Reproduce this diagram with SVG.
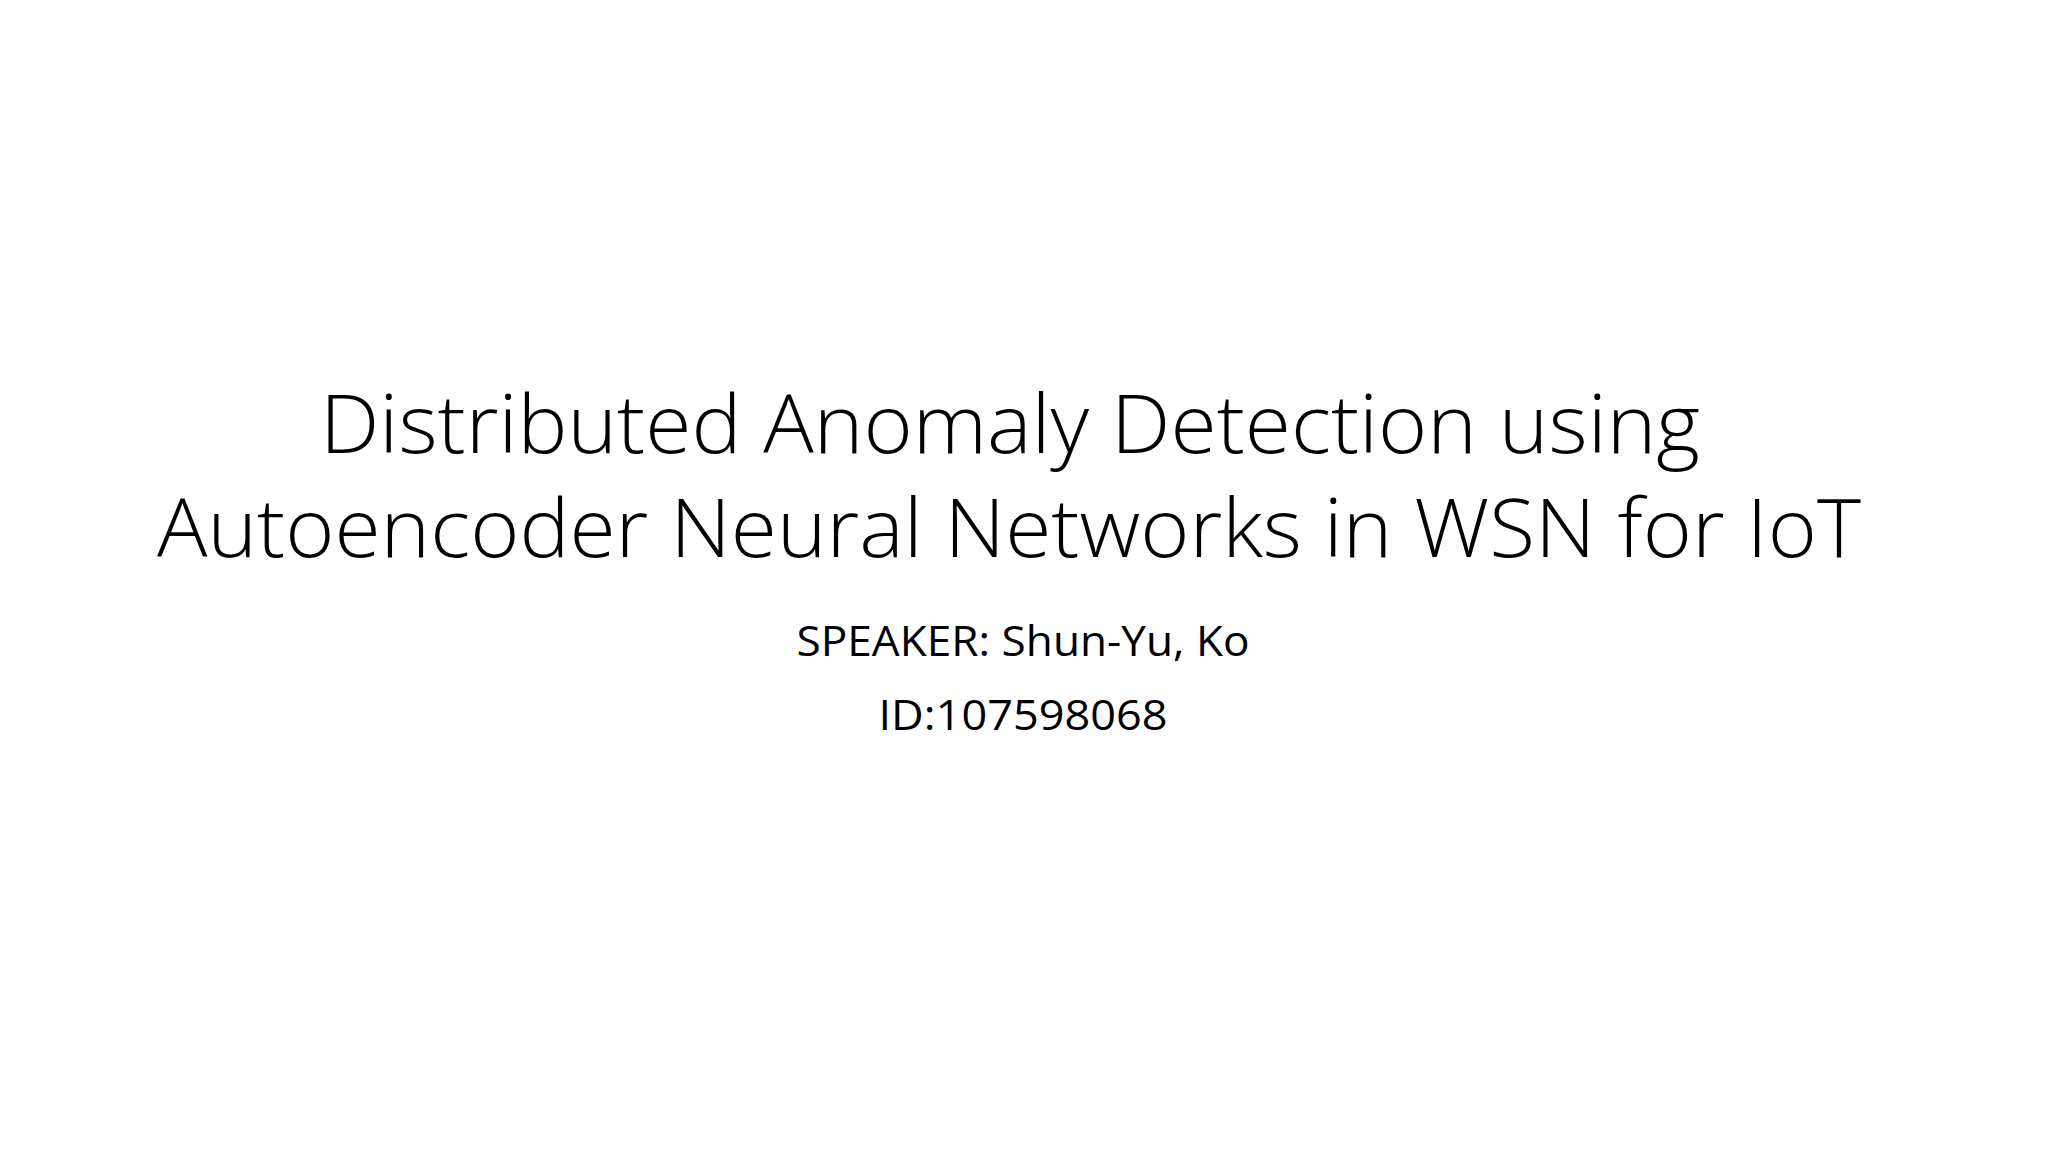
<svg xmlns="http://www.w3.org/2000/svg" width="2048" height="1152" viewBox="0 0 2048 1152">
<style>
.t{font-family:"Open Sans","Liberation Sans",sans-serif;fill:#000;text-anchor:middle}
.title{font-size:82px;font-weight:300}
.sub{font-size:42px;font-weight:400}
</style>
<rect width="2048" height="1152" fill="#fff"/>
<g id="title">
<text class="t title" x="1010" y="453" textLength="1380" lengthAdjust="spacingAndGlyphs">Distributed Anomaly Detection using</text>
<text class="t title" x="1009" y="557" textLength="1704" lengthAdjust="spacingAndGlyphs">Autoencoder Neural Networks in WSN for IoT</text>
</g>
<g id="subtitle">
<text class="t sub" x="1023" y="656" textLength="453" lengthAdjust="spacingAndGlyphs">SPEAKER: Shun-Yu, Ko</text>
<text class="t sub" x="1023" y="730" textLength="289" lengthAdjust="spacingAndGlyphs">ID:107598068</text>
</g>
</svg>
